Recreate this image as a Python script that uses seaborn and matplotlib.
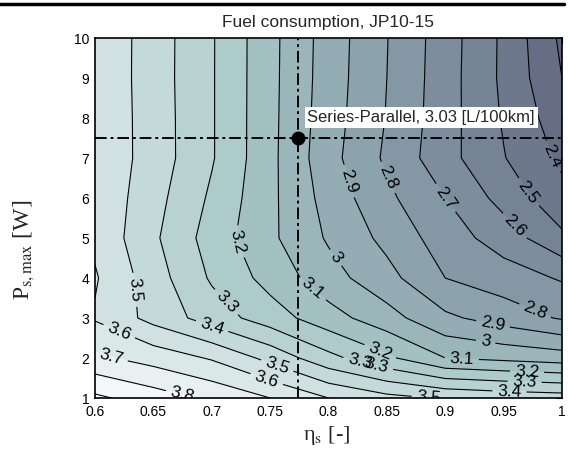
import numpy as np
import matplotlib
matplotlib.use('Agg')
import matplotlib.pyplot as plt
import seaborn as sns
from matplotlib.lines import Line2D

# grid
eta_s = [0.6, 0.65, 0.7, 0.75, 0.8, 0.85, 0.9, 0.95, 1.0]
p_smax = [1, 2, 3, 4, 5, 6, 7, 8, 9, 10]
fuel = [
    [3.92, 3.85, 3.78, 3.70, 3.60, 3.53, 3.49, 3.465, 3.45],
    [3.72, 3.66, 3.59, 3.47, 3.33, 3.22, 3.10, 3.075, 3.05],
    [3.59, 3.467, 3.353, 3.248, 3.141, 3.04, 2.92, 2.855, 2.79],
    [3.61, 3.447, 3.287, 3.164, 3.04, 2.933, 2.80, 2.748, 2.69],
    [3.58, 3.418, 3.256, 3.12, 2.988, 2.872, 2.75, 2.653, 2.52],
    [3.58, 3.437, 3.283, 3.123, 2.962, 2.822, 2.70, 2.565, 2.43],
    [3.58, 3.456, 3.309, 3.126, 2.936, 2.782, 2.636, 2.505, 2.38],
    [3.58, 3.455, 3.309, 3.127, 2.946, 2.795, 2.642, 2.49, 2.34],
    [3.58, 3.452, 3.309, 3.128, 2.952, 2.80, 2.645, 2.48, 2.30],
    [3.58, 3.453, 3.309, 3.129, 2.955, 2.803, 2.648, 2.481, 2.28],
]
line_levels = [2.3, 2.4, 2.5, 2.6, 2.7, 2.8, 2.9, 3.0, 3.1, 3.2, 3.3, 3.4, 3.5, 3.6, 3.7, 3.8, 3.9]
fill_levels = [2.2] + line_levels + [4.0]

opt_eta = 0.774
opt_p = 7.5
opt_label = 'Series-Parallel, 3.03 [L/100km]'

# where the contour labels sit in the reference
label_spots = [
    (0.632, 3.7), (0.619, 2.55), (0.613, 1.95), (0.676, 1.2), (0.699, 2.68), (0.709, 3.3),
    (0.72, 4.88), (0.785, 3.68), (0.806, 4.5), (0.815, 6.4), (0.85, 6.5), (0.898, 5.95),
    (0.954, 5.15), (0.968, 6.08), (0.985, 6.97), (0.94, 2.73), (0.974, 2.98),
    (0.934, 2.28), (0.914, 1.88), (0.97, 1.58), (0.968, 1.38), (0.955, 1.15),
    (0.886, 1.08), (0.756, 1.8), (0.745, 1.3), (0.826, 1.8), (0.838, 1.95), (0.844, 2.15),
]

sns.set_theme(style='white')
plt.rcParams['font.family'] = ['Liberation Sans', 'DejaVu Sans']
plt.rcParams['mathtext.fontset'] = 'stix'

X, Y = np.meshgrid(eta_s, p_smax)
Z = np.array(fuel)

fig = plt.figure(figsize=(5.68, 4.51), dpi=100)
ax = fig.add_axes([95 / 568, 53 / 451, 467 / 568, 360 / 451])

ax.contourf(X, Y, Z, levels=fill_levels, cmap='bone', vmin=1.0, vmax=3.95)
cs = ax.contour(X, Y, Z, levels=line_levels, colors='black', linewidths=0.8)
ax.clabel(cs, fmt=lambda v: f'{round(v, 1):g}', fontsize=12.5, manual=label_spots, inline=True)

ax.axvline(opt_eta, color='black', lw=1.4, ls=(0, (6, 2, 1.5, 2)))
ax.axhline(opt_p, color='black', lw=1.4, ls=(0, (6, 2, 1.5, 2)))
ax.plot([opt_eta], [opt_p], 'o', color='black', ms=9)
ax.text(opt_eta + 0.008, opt_p + 0.52, opt_label, fontsize=12, va='center', ha='left',
        bbox=dict(facecolor='white', edgecolor='none', pad=2))

ax.set_xlim(0.6, 1.0)
ax.set_ylim(1, 10)
ax.set_xticks(eta_s)
ax.set_xticklabels(['0.6', '0.65', '0.7', '0.75', '0.8', '0.85', '0.9', '0.95', '1'])
ax.set_yticks(p_smax)
ax.tick_params(direction='in', top=True, right=True, length=4, width=0.8,
               labelsize=10, colors='black')
ax.tick_params(axis='x', pad=5)
ax.tick_params(axis='y', pad=4)
for s in ax.spines.values():
    s.set_color('black')
    s.set_linewidth(1.2)

ax.text(0.5, 1.0 + 11 / 360, 'Fuel consumption, JP10-15', transform=ax.transAxes,
        ha='center', va='baseline', fontsize=12.5)
ax.set_xlabel(r'η$_\mathrm{s}$ [-]', fontsize=16, family=['Liberation Serif', 'DejaVu Serif'])
ax.set_ylabel(r'P$_\mathrm{s,max}$ [W]', fontsize=17, family=['Liberation Serif', 'DejaVu Serif'])
ax.xaxis.set_label_coords(0.495, -0.072)
ax.yaxis.set_label_coords(-0.124, 0.411)

fig.add_artist(Line2D([0, 0.993], [1 - 4 / 451] * 2, color='black', lw=2.5, transform=fig.transFigure))

fig.savefig('out.png', dpi=100)
